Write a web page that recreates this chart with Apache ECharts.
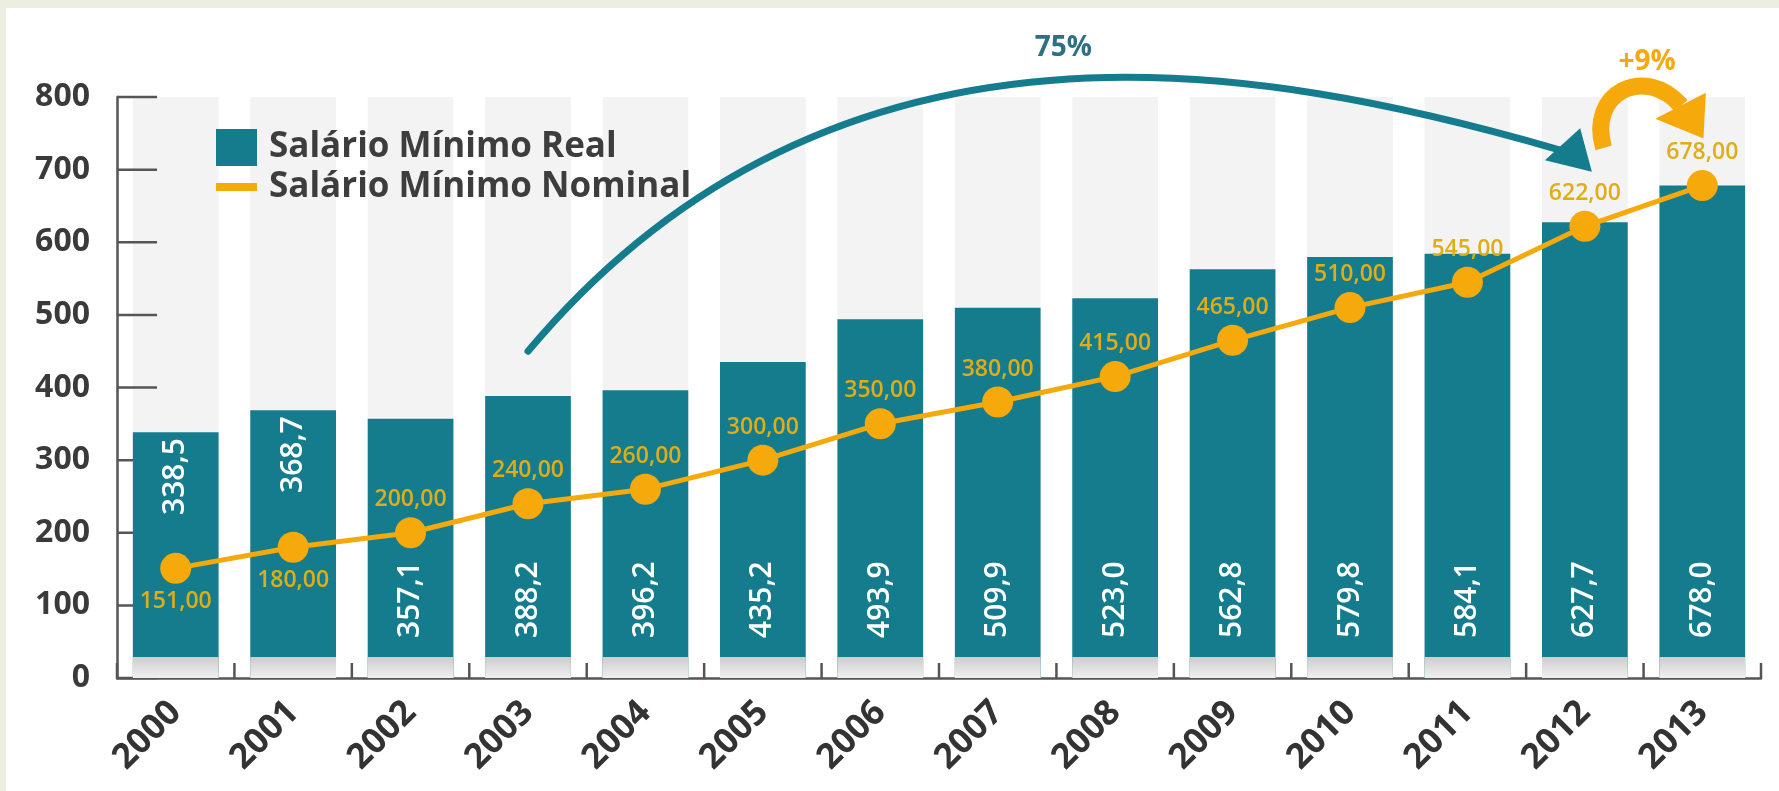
<!DOCTYPE html>
<html>
<head>
<meta charset="utf-8">
<script src="https://cdn.jsdelivr.net/npm/echarts@6/dist/echarts.min.js"></script>
<style>
  html, body { margin: 0; padding: 0; background: #eceedf; }
  #panel { position: absolute; left: 6px; top: 8px; right: 0; bottom: 0; background: #ffffff; }
  #chart { position: absolute; left: 0; top: 0; width: 1779px; height: 791px; }
</style>
</head>
<body>
<div id="panel"></div>
<div id="chart"></div>
<script>
// Salário mínimo real x nominal (R$), 2000–2013
const years = ['2000', '2001', '2002', '2003', '2004', '2005', '2006',
               '2007', '2008', '2009', '2010', '2011', '2012', '2013'];
const realWage = [338.5, 368.7, 357.1, 388.2, 396.2, 435.2, 493.9,
                  509.9, 523.0, 562.8, 579.8, 584.1, 627.7, 678.0];
const nominalWage = [151, 180, 200, 240, 260, 300, 350,
                     380, 415, 465, 510, 545, 622, 678];
const yTicks = [0, 100, 200, 300, 400, 500, 600, 700, 800];

const Y_MIN = yTicks[0];
const Y_MAX = yTicks[yTicks.length - 1];
const Y_STEP = yTicks[1] - yTicks[0];

// layout / style
const GRID = { left: 117, top: 97, width: 1644, height: 581 };
const TEAL = '#157c8e';
const ORANGE = '#f5a90a';
const LABEL_GOLD = '#e0ad16';
const AXIS_GREY = '#555555';
const FONT = '"Open Sans", "Noto Sans", sans-serif';
const BASE_BAND = 29;                 // grey plinth under every bar, in axis units
const LOW_YEARS = ['2000', '2001'];   // years where the line sits inside the bar's lower half
const Y_TICK_LEN = 40;
const X_TICK_LEN = 15;
const TICK_WIDTH = 2.5;

// drawing order: columns < ticks < bars < plinth < line < annotations
const Z = { column: 1, tick: 2, bar: 3, plinth: 4, line: 5, note: 10 };

const fmt = (v, d) => v.toFixed(d).replace('.', ',');

// data space -> pixel, used for the annotation arrows
function toPx(catPos, value) {
  const step = GRID.width / years.length;
  return [GRID.left + (catPos + 0.5) * step,
          GRID.top + GRID.height * (1 - (value - Y_MIN) / (Y_MAX - Y_MIN))];
}

const realData = realWage.map((v, i) => {
  const low = LOW_YEARS.includes(years[i]);
  return {
    value: v,
    label: low
      ? { position: 'insideTop', align: 'right', verticalAlign: 'middle', distance: 6 }
      : { position: 'insideBottom', align: 'left', verticalAlign: 'middle', distance: 40 }
  };
});

const nominalData = nominalWage.map((v, i) => ({
  value: v,
  label: { position: LOW_YEARS.includes(years[i]) ? 'bottom' : 'top' }
}));

// curved arrows (positions in category / value space)
const tealArrow = {
  p0: toPx(3, 450), p1: toPx(5.63, 958), p2: toPx(9.29, 844), p3: toPx(11.79, 727),
  head: [toPx(11.66, 713), toPx(11.96, 757), toPx(12.06, 697)]
};
const orangeArrow = {
  p0: toPx(12.16, 730), p1: toPx(12.02, 806), p2: toPx(12.51, 845), p3: toPx(12.82, 788),
  head: [toPx(12.60, 770), toPx(13.03, 806), toPx(13.01, 743)]
};
const bezierShape = a => ({
  x1: a.p0[0], y1: a.p0[1],
  cpx1: a.p1[0], cpy1: a.p1[1],
  cpx2: a.p2[0], cpy2: a.p2[1],
  x2: a.p3[0], y2: a.p3[1]
});

const tickStyle = { stroke: AXIS_GREY, lineWidth: TICK_WIDTH };

// inward ticks on the value axis: drawn over the light columns, under the bars
function renderYTick(params, api) {
  const cs = params.coordSys;
  const y = api.coord([0, api.value(1)])[1];
  return {
    type: 'line',
    shape: { x1: cs.x, y1: y, x2: cs.x + Y_TICK_LEN, y2: y },
    style: tickStyle
  };
}

// upward ticks on the category axis, at the band boundaries
function renderXTick(params, api) {
  const idx = api.value(0);
  const c = api.coord([idx, 0]);
  const half = api.size([1, 0])[0] / 2;
  const xs = [c[0] - half];
  if (idx === years.length - 1) xs.push(c[0] + half);
  return {
    type: 'group',
    children: xs.map(x => ({
      type: 'line',
      shape: { x1: x, y1: c[1], x2: x, y2: c[1] - X_TICK_LEN },
      style: tickStyle
    }))
  };
}

const chart = echarts.init(document.getElementById('chart'), null, { renderer: 'canvas' });

chart.setOption({
  backgroundColor: 'transparent',
  animation: false,
  grid: GRID,
  legend: {
    left: 216,
    top: 129,
    orient: 'vertical',
    itemWidth: 41,
    itemHeight: 37,
    itemGap: 3,
    padding: 0,
    selectedMode: false,
    textStyle: {
      fontFamily: FONT, fontSize: 35, lineHeight: 37, fontWeight: 'bold',
      color: '#3d3d3d', padding: [0, 0, 0, 7]
    },
    data: [
      { name: 'Salário Mínimo Real', icon: 'rect' },
      { name: 'Salário Mínimo Nominal', icon: 'path://M0,0M41,37M0,14h41v8h-41z' }
    ]
  },
  xAxis: {
    type: 'category',
    data: years,
    axisLine: { lineStyle: { color: AXIS_GREY, width: 2.5 } },
    axisTick: { show: false },
    axisLabel: {
      interval: 0, rotate: 45, margin: 29,
      fontFamily: FONT, fontSize: 35, fontWeight: 'bold', color: '#333'
    },
    splitLine: { show: false }
  },
  yAxis: {
    type: 'value',
    min: Y_MIN, max: Y_MAX, interval: Y_STEP,
    axisLine: { show: true, lineStyle: { color: AXIS_GREY, width: 2.5 } },
    axisTick: { show: false },
    axisLabel: {
      margin: 27, padding: [0, 0, 12, 0],
      fontFamily: FONT, fontSize: 32, fontWeight: 'bold', color: '#3a3a3a'
    },
    splitLine: { show: false }
  },
  series: [
    {
      // light column behind each year
      name: 'coluna',
      type: 'bar',
      z: Z.column,
      silent: true,
      barWidth: '73%',
      barGap: '-100%',
      itemStyle: { color: '#f3f3f3' },
      data: years.map(() => Y_MAX)
    },
    {
      name: 'yTicks',
      type: 'custom',
      z: Z.tick,
      silent: true,
      renderItem: renderYTick,
      data: yTicks.map(v => [0, v])
    },
    {
      name: 'xTicks',
      type: 'custom',
      z: Z.tick,
      silent: true,
      renderItem: renderXTick,
      data: years.map((y, i) => [i, 0])
    },
    {
      name: 'Salário Mínimo Real',
      type: 'bar',
      z: Z.bar,
      barWidth: '73%',
      barGap: '-100%',
      itemStyle: { color: TEAL },
      label: {
        show: true,
        rotate: 90,
        color: '#ffffff',
        fontFamily: FONT,
        fontSize: 30,
        fontWeight: 600,
        formatter: p => fmt(p.value, 1)
      },
      data: realData
    },
    {
      // grey plinth at the foot of the bars
      name: 'base',
      type: 'bar',
      z: Z.plinth,
      silent: true,
      barWidth: '73%',
      barGap: '-100%',
      itemStyle: {
        color: {
          type: 'linear', x: 0, y: 0, x2: 0, y2: 1,
          colorStops: [
            { offset: 0, color: '#cdcdcd' },
            { offset: 1, color: '#f0f0f0' }
          ]
        }
      },
      data: years.map(() => BASE_BAND)
    },
    {
      name: 'Salário Mínimo Nominal',
      type: 'line',
      z: Z.line,
      symbol: 'circle',
      symbolSize: 31,
      lineStyle: { color: ORANGE, width: 5 },
      itemStyle: { color: ORANGE },
      label: {
        show: true,
        distance: 6,
        color: LABEL_GOLD,
        fontFamily: FONT,
        fontSize: 23,
        fontWeight: 600,
        formatter: p => fmt(p.value, 2)
      },
      data: nominalData
    }
  ],
  graphic: [
    {
      type: 'bezierCurve', silent: true, z: Z.note,
      shape: bezierShape(tealArrow),
      style: { fill: null, stroke: TEAL, lineWidth: 7, lineCap: 'round' }
    },
    {
      type: 'polygon', silent: true, z: Z.note,
      shape: { points: tealArrow.head },
      style: { fill: TEAL }
    },
    {
      type: 'bezierCurve', silent: true, z: Z.note,
      shape: bezierShape(orangeArrow),
      style: { fill: null, stroke: ORANGE, lineWidth: 17, lineCap: 'butt' }
    },
    {
      type: 'polygon', silent: true, z: Z.note,
      shape: { points: orangeArrow.head },
      style: { fill: ORANGE }
    },
    {
      type: 'text', silent: true, z: Z.note,
      x: toPx(7.56, 867)[0], y: toPx(7.56, 867)[1],
      style: {
        text: '75%', fill: '#2b7083', font: 'bold 28px ' + FONT,
        align: 'center', verticalAlign: 'middle'
      }
    },
    {
      type: 'text', silent: true, z: Z.note,
      x: toPx(12.53, 848)[0], y: toPx(12.53, 848)[1],
      style: {
        text: '+9%', fill: ORANGE, font: 'bold 28px ' + FONT,
        align: 'center', verticalAlign: 'middle'
      }
    }
  ]
});
</script>
</body>
</html>
